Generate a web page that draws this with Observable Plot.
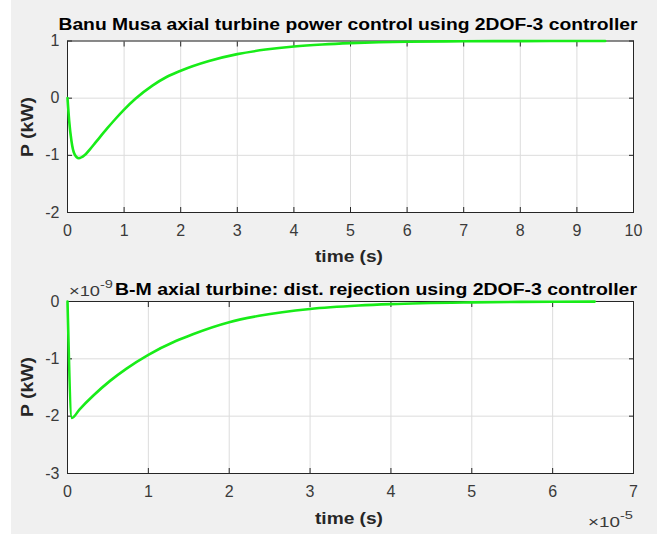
<!DOCTYPE html>
<html><head><meta charset="utf-8">
<script src="https://cdn.jsdelivr.net/npm/d3@7"></script>
<script src="https://cdn.jsdelivr.net/npm/@observablehq/plot@0.6"></script>
<style>
html,body{margin:0;padding:0;background:#fff;}
#fig{position:relative;width:657px;height:534px;background:#f0f0f0;overflow:hidden;}
#strip{position:absolute;left:0;top:0;width:11px;height:534px;background:#fff;}
#fig svg{position:absolute;left:0;}
</style></head><body><div id="fig"><div id="strip"></div></div>
<script>
// ---- Data ----
const titleTop = "Banu Musa axial turbine power control using 2DOF-3 controller";
const titleBottom = "B-M axial turbine: dist. rejection using 2DOF-3 controller";
const xLabel = "time (s)";
const yLabel = "P (kW)";
const yExponentBottom = "-9";
const xExponentBottom = "-5";

// top panel: time (s), power (kW)
const timeTop  = [0, 0.03, 0.07, 0.12, 0.2, 0.3, 0.4, 0.5, 0.7, 0.85, 1.0, 1.2, 1.5, 1.75, 2.0, 2.5, 3.0, 3.5, 4.0, 4.5, 5.0, 5.5, 6.0, 7.0, 8.0, 9.0, 9.5];
const powerTop = [0, -0.4, -0.75, -0.97, -1.05, -1.0, -0.89, -0.77, -0.53, -0.36, -0.2, -0.01, 0.22, 0.37, 0.48, 0.65, 0.77, 0.85, 0.905, 0.94, 0.963, 0.977, 0.986, 0.995, 0.998, 1.0, 1.0];

// bottom panel: time (x1e-5 s), power (x1e-9 kW)
const timeBottom  = [0, 0.054, 0.15, 0.32, 0.53, 0.73, 1.0, 1.34, 1.55, 2.0, 2.37, 3.0, 3.6, 4.0, 5.0, 6.0, 6.52];
const powerBottom = [0, -2.03, -1.88, -1.64, -1.38, -1.17, -0.93, -0.69, -0.57, -0.36, -0.25, -0.13, -0.07, -0.045, -0.015, -0.004, -0.002];

const xTicksTop = [0, 1, 2, 3, 4, 5, 6, 7, 8, 9, 10];
const yTicksTop = [-2, -1, 0, 1];
const xTicksBottom = [0, 1, 2, 3, 4, 5, 6, 7];
const yTicksBottom = [-3, -2, -1, 0];

// ---- Styling ----
const FONT = "'Liberation Sans', Arial, Helvetica, sans-serif";
const AXIS = "#262626";
const TICKTXT = "#3a3a3a";
const GRID = "#dcdcdc";
const GREEN = "#18ec18";

function panel({time, power, xTicks, yTicks, height, marginTop, marginBottom}) {
  const rows = time.map((t, i) => ({t, p: power[i]}));
  const fmt = d => String(d);
  return Plot.plot({
    width: 657, height, marginLeft: 67, marginRight: 24, marginTop, marginBottom,
    style: {background: "transparent", fontFamily: FONT, fontSize: "16px", overflow: "visible"},
    x: {domain: [xTicks[0], xTicks[xTicks.length - 1]]},
    y: {domain: [yTicks[0], yTicks[yTicks.length - 1]]},
    marks: [
      Plot.frame({fill: "white", stroke: "none"}),
      Plot.gridX(xTicks, {stroke: GRID, strokeOpacity: 1}),
      Plot.gridY(yTicks, {stroke: GRID, strokeOpacity: 1}),
      Plot.axisX(xTicks, {anchor: "bottom", tickSize: 0, tickPadding: 12, fill: TICKTXT, label: null, tickFormat: fmt, fontSize: 16}),
      Plot.axisY(yTicks, {anchor: "left", tickSize: 0, tickPadding: 8, fill: TICKTXT, label: null, tickFormat: fmt, fontSize: 16}),
      Plot.axisX(xTicks, {anchor: "bottom", tickSize: -5, fill: "none", stroke: AXIS, label: null}),
      Plot.axisX(xTicks, {anchor: "top", tickSize: -5, fill: "none", stroke: AXIS, label: null}),
      Plot.axisY(yTicks, {anchor: "left", tickSize: -5, fill: "none", stroke: AXIS, label: null}),
      Plot.axisY(yTicks, {anchor: "right", tickSize: -5, fill: "none", stroke: AXIS, label: null}),
      Plot.frame({stroke: AXIS, strokeWidth: 1}),
      Plot.line(rows, {x: "t", y: "p", stroke: GREEN, strokeWidth: 2.6, curve: "monotone-x"})
    ]
  });
}

function addText(svg, {text, x, y, size, weight = "normal", fill = "#000", anchor = "start", length = null, rotate = 0}) {
  const t = d3.select(svg).append("text")
    .attr("font-family", FONT)
    .attr("font-size", size)
    .attr("font-weight", weight)
    .attr("fill", fill)
    .attr("text-anchor", anchor)
    .attr("transform", `translate(${x},${y})` + (rotate ? ` rotate(${rotate})` : ""))
    .text(text);
  if (length) t.attr("textLength", length).attr("lengthAdjust", "spacingAndGlyphs");
  return t;
}

const fig = document.getElementById("fig");

// Top panel: svg at page y=0
const topSvg = panel({time: timeTop, power: powerTop, xTicks: xTicksTop, yTicks: yTicksTop,
  height: 268, marginTop: 40.5, marginBottom: 56});
topSvg.style.top = "0px";
fig.appendChild(topSvg);
addText(topSvg, {text: titleTop, x: 58.5, y: 30, size: 16, weight: "bold", fill: "#000", length: 579});
addText(topSvg, {text: xLabel, x: 315, y: 262, size: 16, weight: "bold", fill: AXIS, length: 68});
addText(topSvg, {text: yLabel, x: 33, y: 127, size: 16, weight: "bold", fill: AXIS, anchor: "middle", length: 60, rotate: -90});

// Bottom panel: svg at page y=268
const OFF = 268;
const botSvg = panel({time: timeBottom, power: powerBottom, xTicks: xTicksBottom, yTicks: yTicksBottom,
  height: 266, marginTop: 301 - OFF, marginBottom: 534 - 473});
botSvg.style.top = OFF + "px";
fig.appendChild(botSvg);
addText(botSvg, {text: "\u00d710", x: 69, y: 296 - OFF, size: 15, fill: TICKTXT, length: 31});
addText(botSvg, {text: yExponentBottom, x: 100, y: 288 - OFF, size: 11, fill: TICKTXT, length: 13});
addText(botSvg, {text: titleBottom, x: 115, y: 295 - OFF, size: 16, weight: "bold", fill: "#000", length: 522});
addText(botSvg, {text: yLabel, x: 33, y: 387 - OFF, size: 16, weight: "bold", fill: AXIS, anchor: "middle", length: 60, rotate: -90});
addText(botSvg, {text: xLabel, x: 315, y: 524 - OFF, size: 16, weight: "bold", fill: AXIS, length: 68});
addText(botSvg, {text: "\u00d710", x: 588, y: 527 - OFF, size: 15, fill: TICKTXT, length: 32});
addText(botSvg, {text: xExponentBottom, x: 620, y: 519 - OFF, size: 11, fill: TICKTXT, length: 13});
</script>
</body></html>
